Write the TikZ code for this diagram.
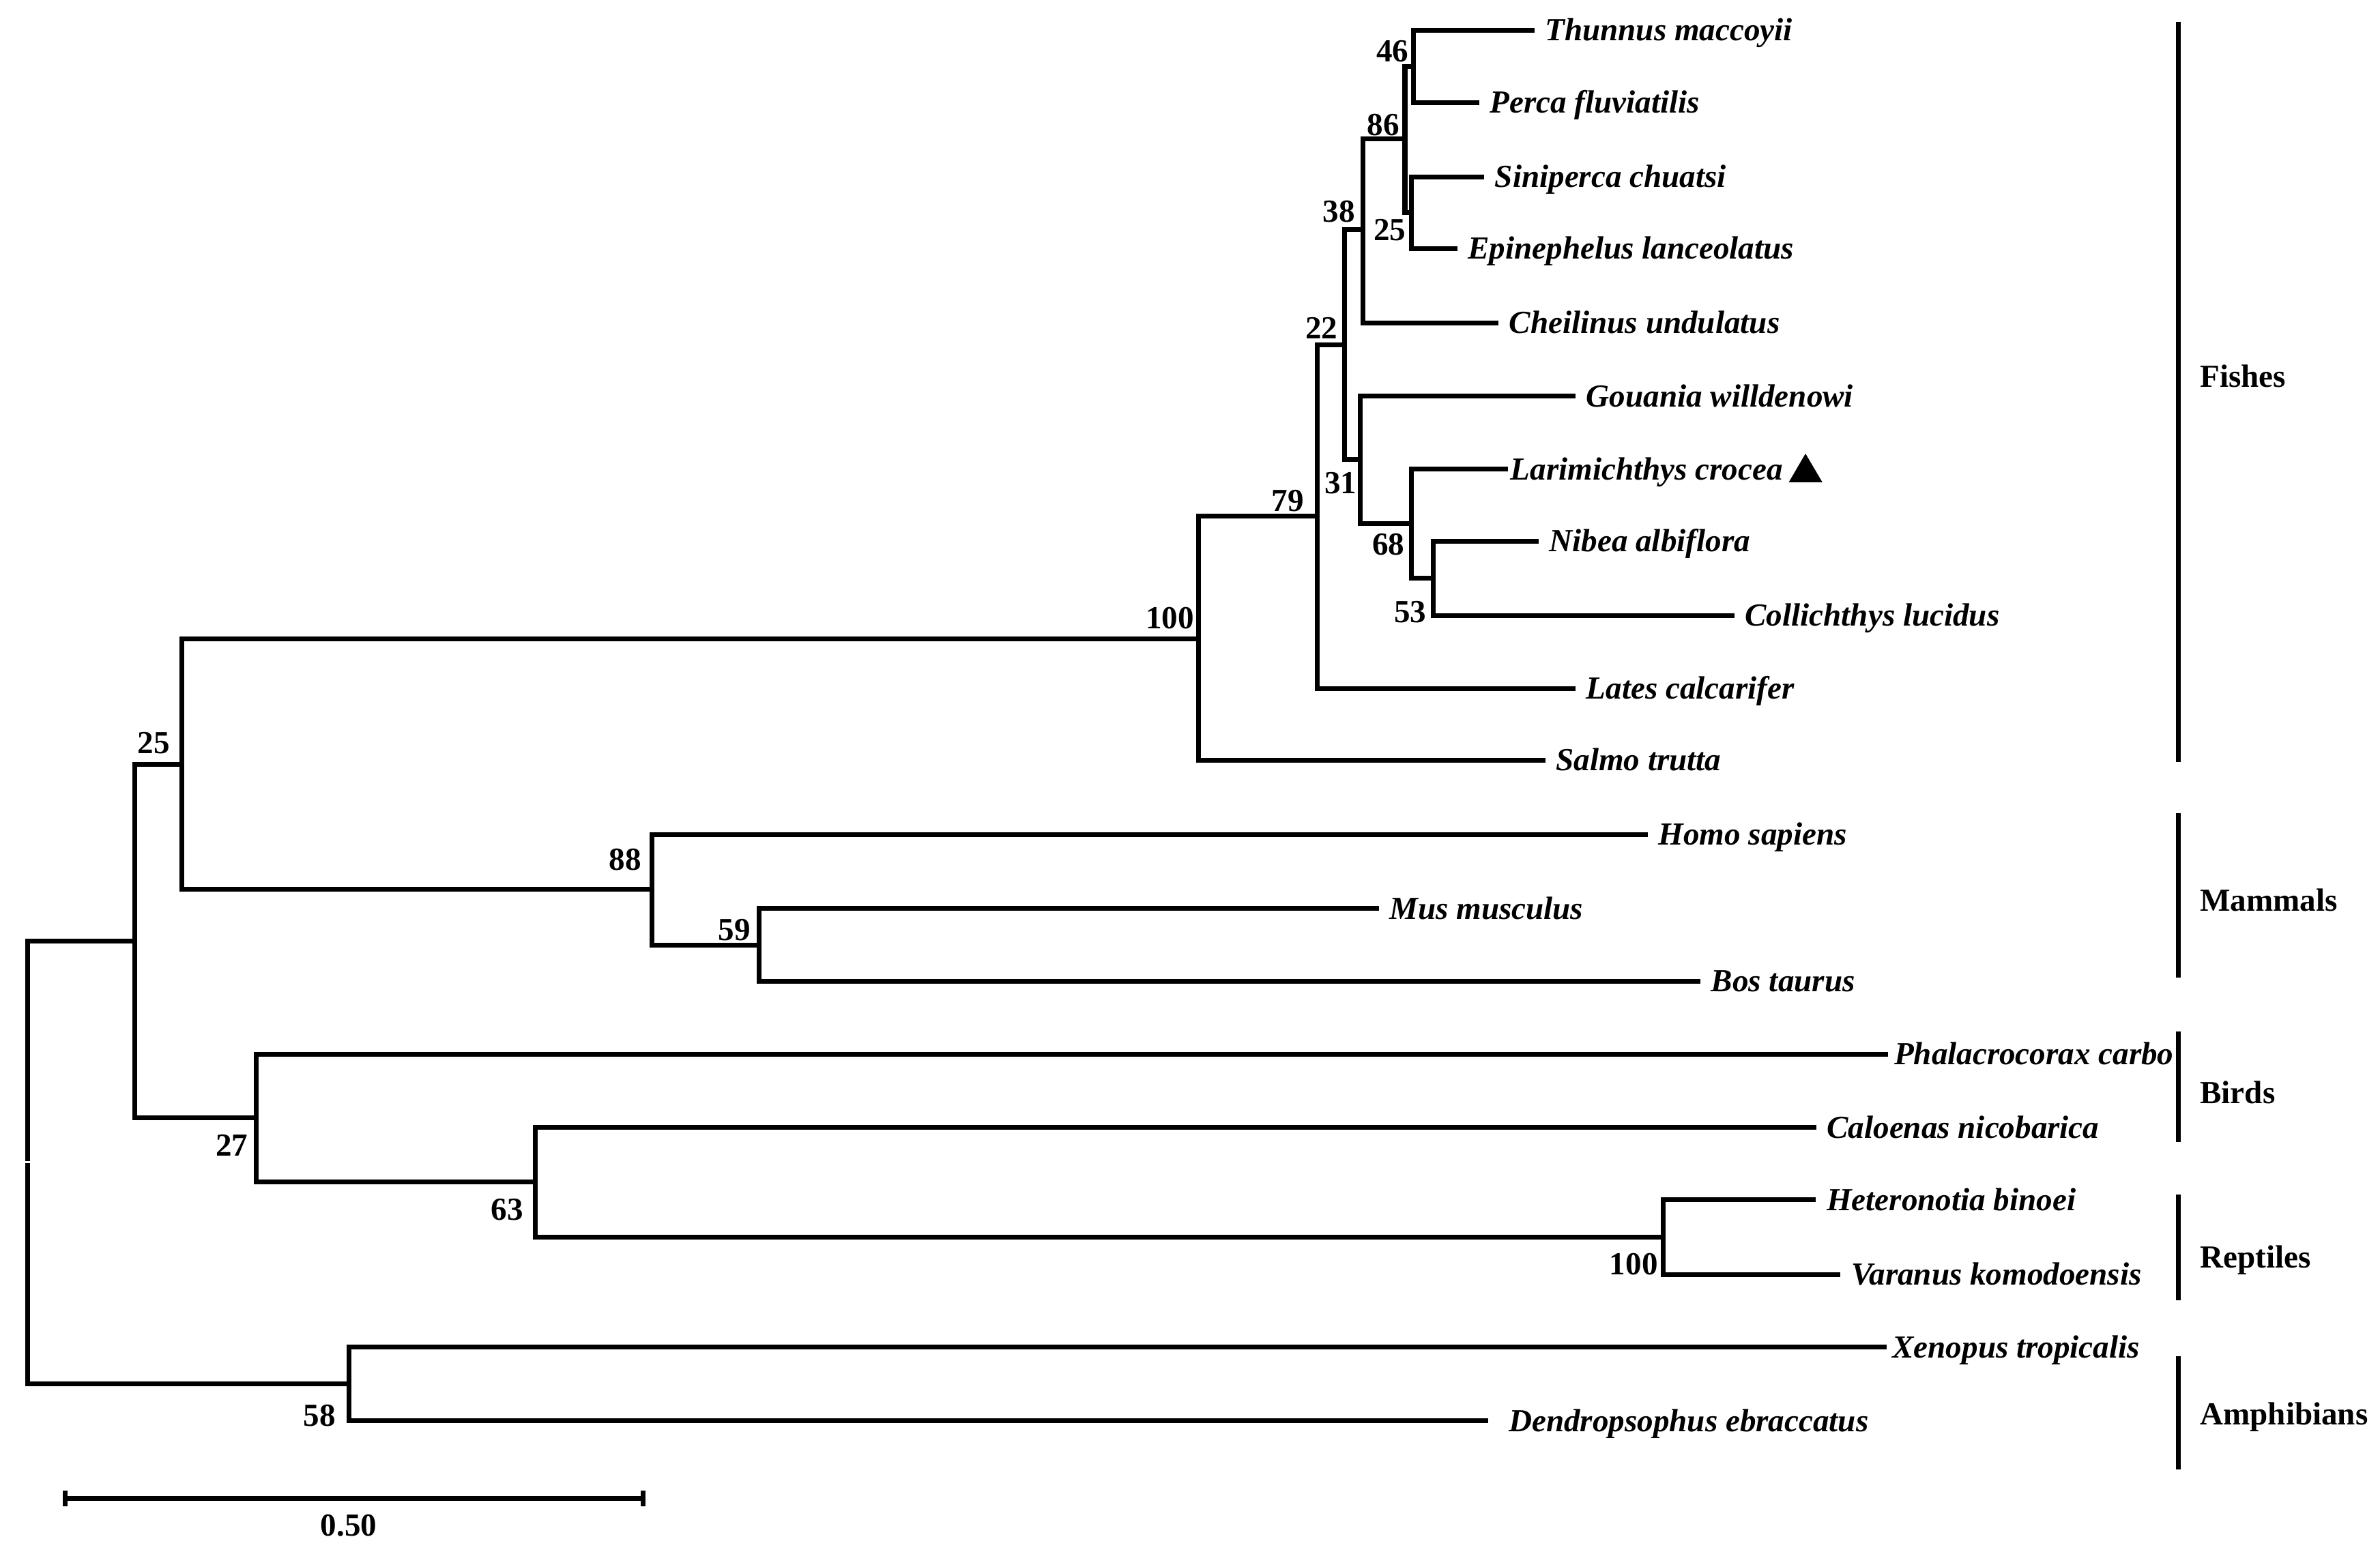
\documentclass[tikz,border=0pt]{standalone}
\usepackage{fontspec}
\setmainfont{Liberation Serif}
\begin{document}
\begin{tikzpicture}[x=0.022245cm,y=-0.022245cm,
  br/.style={line width=2pt, line join=miter},
  brk/.style={line width=2pt},
  leaf/.style={anchor=west, inner xsep=4.5pt, inner ysep=0pt, outer sep=0pt,
    text height=8.8pt, text depth=0pt, font=\fontsize{13.4}{15}\selectfont\bfseries\itshape},
  boot/.style={anchor=east, inner sep=0pt, outer sep=0pt,
    text height=9pt, text depth=0pt, font=\fontsize{13.4}{15}\selectfont\bfseries},
  grp/.style={anchor=west, inner sep=0pt, outer sep=0pt,
    text height=9pt, text depth=0pt, font=\fontsize{13.4}{15}\selectfont\bfseries}]
\useasboundingbox (0,0) rectangle (1568,1022.26);

% internal nodes
\coordinate (root) at (18.1,765.8);
\coordinate (nA) at (88.8,620);
\coordinate (n58) at (229.8,912);
\coordinate (n25) at (119.7,503.9);
\coordinate (n27) at (168.6,736.6);
\coordinate (n100) at (789.4,421);
\coordinate (n88) at (429.4,585.9);
\coordinate (n79) at (868,340.2);
\coordinate (n22) at (886,227.1);
\coordinate (n38) at (897.8,151.4);
\coordinate (n86) at (925.6,91.5);
\coordinate (n46) at (931.4,43.7);
\coordinate (n25f) at (929.7,140.2);
\coordinate (n31) at (896.1,302.7);
\coordinate (n68) at (929.9,344.9);
\coordinate (n53) at (944.3,381);
\coordinate (n59) at (499.9,622.7);
\coordinate (n63) at (352.6,778.8);
\coordinate (nR) at (1095.6,815.3);

% leaves
\node[leaf] (thu) at (1010.8,19.8) {Thunnus maccoyii};
\node[leaf] (per) at (974.4,67.6) {Perca fluviatilis};
\node[leaf] (sin) at (977.8,116.6) {Siniperca chuatsi};
\node[leaf] (epi) at (960,163.8) {Epinephelus lanceolatus};
\node[leaf] (che) at (987.2,212.8) {Cheilinus undulatus};
\node[leaf] (gou) at (1038,261) {Gouania willdenowi};
\node[leaf, inner xsep=1pt] (lar) at (993.6,309.2) {Larimichthys crocea};
\node[leaf] (nib) at (1013.6,356.5) {Nibea albiflora};
\node[leaf] (col) at (1142.6,405.5) {Collichthys lucidus};
\node[leaf] (lat) at (1038,453.7) {Lates calcarifer};
\node[leaf] (sal) at (1018,501) {Salmo trutta};
\node[leaf] (hom) at (1085.6,549.9) {Homo sapiens};
\node[leaf] (mus) at (908.3,598.6) {Mus musculus};
\node[leaf] (bos) at (1120.3,646.5) {Bos taurus};
\node[leaf, inner xsep=2.5pt] (pha) at (1244,694.7) {Phalacrocorax carbo};
\node[leaf] (cal) at (1196.5,742.9) {Caloenas nicobarica};
\node[leaf] (het) at (1196.4,790.7) {Heteronotia binoei};
\node[leaf] (var) at (1212.6,839.9) {Varanus komodoensis};
\node[leaf, inner xsep=2.5pt] (xen) at (1242.8,887.7) {Xenopus tropicalis};
\node[leaf, inner xsep=8.5pt] (den) at (980.6,936.2) {Dendropsophus ebraccatus};

% branches
\draw[br] (n46) |- (thu.west);
\draw[br] (n46) |- (per.west);
\draw[br] (n25f) |- (sin.west);
\draw[br] (n25f) |- (epi.west);
\draw[br] (n86) |- (n46);
\draw[br] (n86) |- (n25f);
\draw[br] (n38) |- (n86);
\draw[br] (n38) |- (che.west);
\draw[br] (n22) |- (n38);
\draw[br] (n22) |- (n31);
\draw[br] (n31) |- (gou.west);
\draw[br] (n31) |- (n68);
\draw[br] (n68) |- (lar.west);
\draw[br] (n68) |- (n53);
\draw[br] (n53) |- (nib.west);
\draw[br] (n53) |- (col.west);
\draw[br] (n79) |- (n22);
\draw[br] (n79) |- (lat.west);
\draw[br] (n100) |- (n79);
\draw[br] (n100) |- (sal.west);
\draw[br] (n25) |- (n100);
\draw[br] (n25) |- (n88);
\draw[br] (n88) |- (hom.west);
\draw[br] (n88) |- (n59);
\draw[br] (n59) |- (mus.west);
\draw[br] (n59) |- (bos.west);
\draw[br] (nA) |- (n25);
\draw[br] (nA) |- (n27);
\draw[br] (n27) |- (pha.west);
\draw[br] (n27) |- (n63);
\draw[br] (n63) |- (cal.west);
\draw[br] (n63) |- (nR);
\draw[br] (nR) |- (het.west);
\draw[br] (nR) |- (var.west);
\draw[br] (n58) |- (xen.west);
\draw[br] (n58) |- (den.west);
\draw[br] ([yshift=0.55pt]root) |- (nA);
\draw[br] ([yshift=-0.55pt]root) |- (n58);

% bootstrap values
\node[boot] (b46) at (928,33.5) {46};
\node[boot] (b86) at (921.9,82) {86};
\node[boot] (b38) at (892.7,139.4) {38};
\node[boot] (b25f) at (926.2,151.4) {25};
\node[boot] (b22) at (881.2,215.9) {22};
\node[boot] (b31) at (893.8,318.1) {31};
\node[boot] (b79) at (858.9,329.8) {79};
\node[boot] (b68) at (925.3,358.6) {68};
\node[boot] (b53) at (939.7,402.9) {53};
\node[boot] (b100) at (786.6,407.2) {100};
\node[boot] (b25) at (111.8,489.5) {25};
\node[boot] (b88) at (422.5,566.2) {88};
\node[boot] (b59) at (494.4,612.7) {59};
\node[boot] (b27) at (163.4,754.8) {27};
\node[boot] (b63) at (344.7,796.8) {63};
\node[boot] (b58) at (221.2,932.8) {58};
\node[boot] (bR) at (1092.2,832.9) {100};

% marker
\fill (1189.5,298.9) -- (1178.5,317.8) -- (1200.6,317.8) -- cycle;

% group brackets
\coordinate (fT) at (1435,14.3);  \coordinate (fB) at (1435,502);
\coordinate (mT) at (1435,536);   \coordinate (mB) at (1435,644.2);
\coordinate (bT) at (1435,679.5); \coordinate (bB) at (1435,752.6);
\coordinate (rT) at (1435,787.3); \coordinate (rB) at (1435,856.9);
\coordinate (aT) at (1435,893.7); \coordinate (aB) at (1435,968.2);
\draw[brk] (fT) -- (fB);
\draw[brk] (mT) -- (mB);
\draw[brk] (bT) -- (bB);
\draw[brk] (rT) -- (rB);
\draw[brk] (aT) -- (aB);
\node[grp] (gF) at (1449.5,247.8) {Fishes};
\node[grp] (gM) at (1449.5,593.3) {Mammals};
\node[grp] (gB) at (1449.5,720) {Birds};
\node[grp] (gR) at (1449.5,828.5) {Reptiles};
\node[grp] (gA) at (1449.5,931.8) {Amphibians};

% scale bar
\coordinate (sL) at (43,987.2);
\coordinate (sR) at (423.8,987.2);
\coordinate (sLt) at (43,982.1);  \coordinate (sLb) at (43,992.4);
\coordinate (sRt) at (423.8,982.1); \coordinate (sRb) at (423.8,992.4);
\draw[br] (sL) -- (sR);
\draw[br] (sLt) -- (sLb);
\draw[br] (sRt) -- (sRb);
\node[boot, anchor=center] (sc) at (229.8,1005.2) {0.50};
\end{tikzpicture}
\end{document}
